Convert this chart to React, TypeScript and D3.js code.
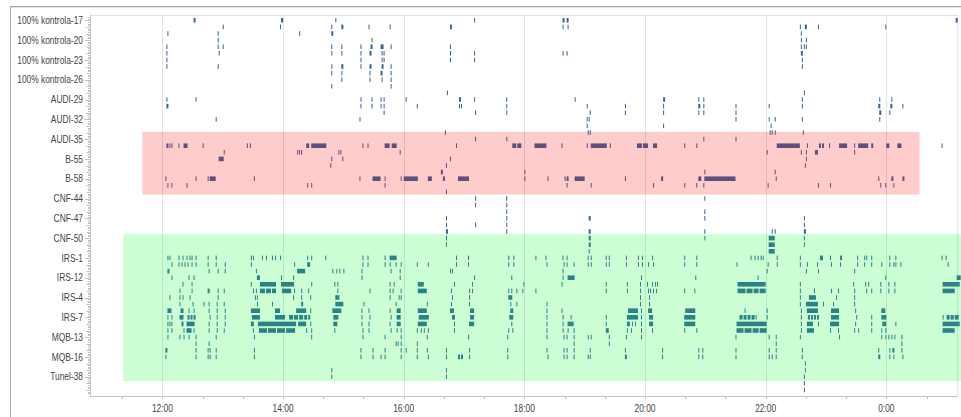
import * as d3 from "d3";

// each row: [name, [[start minutes after 12:00, length in minutes], ...]]
type Ev = [number, number];
type Row = [string, Ev[]];

const kontrolaEvents: Row[] = [
  ["100% kontrola-17", [[31, 2], [118, 2], [172, 1], [310, 1], [398, 2], [402, 2], [789, 2]]],
  ["100% kontrola-18", [[60, 1], [117, 1], [168, 1], [178, 2], [205, 1], [226, 1], [286, 2], [398, 1], [403, 1], [634, 1], [639, 2], [652, 1], [719, 1]]],
  ["100% kontrola-19", [[5, 1], [55, 1], [136, 1], [168, 2], [635, 1]]],
  ["100% kontrola-20", [[55, 1], [208, 1], [635, 1], [640, 1]]],
  ["100% kontrola-21", [[4, 1], [55, 1], [60, 1], [168, 1], [178, 1], [197, 1], [207, 2], [217, 3], [227, 1], [286, 1], [635, 1], [638, 1], [640, 1]]],
  ["100% kontrola-22", [[4, 1], [56, 1], [168, 1], [178, 1], [197, 1], [206, 2], [218, 1], [220, 1], [286, 1], [310, 1], [398, 1], [402, 1], [635, 2]]],
  ["100% kontrola-23", [[4, 1], [197, 1], [218, 1], [220, 1], [286, 1], [310, 1], [636, 1]]],
  ["100% kontrola-24", [[4, 1], [55, 1], [168, 1], [178, 2], [197, 1], [206, 2], [218, 2], [227, 1], [636, 1]]],
  ["100% kontrola-25", [[168, 1], [178, 1], [206, 1], [217, 2], [227, 1]]],
  ["100% kontrola-26", [[178, 1], [206, 1], [218, 1], [227, 1]]],
  ["100% kontrola-27", [[168, 1], [227, 1]]],
  ["100% kontrola-28", [[283, 1], [638, 1]]],
];

const audiEvents: Row[] = [
  ["AUDI-29", [[4, 1], [33, 1], [197, 1], [208, 1], [217, 1], [220, 1], [242, 1], [295, 2], [310, 1], [342, 1], [410, 1], [498, 2], [533, 1], [538, 1], [636, 1], [713, 1], [725, 1]]],
  ["AUDI-30", [[4, 2], [197, 1], [208, 1], [217, 1], [220, 1], [253, 1], [295, 1], [297, 1], [342, 1], [422, 1], [460, 1], [498, 1], [533, 2], [538, 1], [570, 1], [603, 1], [636, 1], [712, 2], [724, 2], [736, 1]]],
  ["AUDI-31", [[220, 1], [311, 1], [342, 1], [425, 1], [460, 1], [498, 1], [533, 1], [538, 1], [570, 1], [713, 2], [723, 1]]],
  ["AUDI-32", [[53, 1], [196, 1], [422, 1], [424, 1], [570, 1], [603, 1], [609, 1], [636, 1], [713, 1]]],
  ["AUDI-33", [[422, 1], [498, 1], [605, 1]]],
  ["AUDI-34", [[281, 1], [423, 1], [425, 1], [604, 1], [606, 1], [609, 1], [637, 1]]],
  ["AUDI-35", [[311, 1], [342, 1], [538, 1], [570, 1]]],
  ["AUDI-36", [[4, 2], [7, 1], [9, 1], [16, 1], [21, 4], [40, 1], [84, 1], [87, 1], [143, 3], [148, 15], [199, 1], [204, 1], [221, 5], [228, 5], [292, 1], [348, 4], [353, 4], [370, 12], [397, 1], [422, 1], [426, 16], [445, 1], [472, 5], [478, 5], [488, 4], [519, 1], [531, 1], [611, 23], [641, 1], [653, 2], [656, 2], [663, 1], [673, 8], [688, 1], [692, 10], [705, 2], [720, 3], [731, 4], [775, 1]]],
  ["AUDI-37", [[61, 1], [134, 1], [136, 1], [138, 1], [175, 1], [177, 1], [236, 1], [601, 1], [635, 1], [640, 1], [649, 3], [688, 1]]],
];

const bEvents: Row[] = [
  ["B-55", [[56, 5], [168, 1], [179, 1], [286, 1], [640, 1]]],
  ["B-56", [[167, 1], [282, 1], [639, 1]]],
  ["B-57", [[277, 2], [360, 1], [539, 1], [609, 1]]],
  ["B-58", [[3, 1], [33, 1], [45, 1], [47, 6], [91, 1], [196, 1], [209, 8], [221, 1], [237, 1], [240, 14], [264, 4], [279, 2], [294, 11], [360, 1], [383, 1], [400, 1], [402, 2], [410, 10], [460, 1], [496, 2], [533, 3], [539, 31], [610, 1], [712, 1], [725, 2], [736, 2]]],
  ["B-59", [[5, 1], [9, 1], [24, 1], [144, 1], [148, 1], [221, 1], [402, 1], [426, 1], [488, 1], [519, 1], [531, 1], [538, 1], [602, 1], [652, 1], [664, 1], [714, 1], [719, 1], [727, 1]]],
  ["B-60", [[282, 1]]],
];

const cnfEvents: Row[] = [
  ["CNF-44", [[311, 1], [342, 1], [539, 1]]],
  ["CNF-45", [[311, 1], [342, 1]]],
  ["CNF-46", [[342, 1], [539, 1]]],
  ["CNF-47", [[282, 1], [342, 1], [424, 2], [539, 1], [638, 1]]],
  ["CNF-48", [[282, 1], [311, 1], [342, 1], [638, 1]]],
  ["CNF-49", [[282, 2], [342, 1], [424, 2], [539, 1], [606, 1], [609, 1], [638, 2]]],
  ["CNF-50", [[282, 1], [424, 2], [539, 1], [603, 6], [638, 1]]],
  ["CNF-51", [[282, 1], [424, 2], [603, 6], [638, 1]]],
  ["CNF-52", [[424, 1], [603, 6]]],
];

const irsEvents: Row[] = [
  ["IRS-1", [[5, 1], [7, 1], [16, 1], [20, 1], [24, 1], [27, 1], [29, 1], [33, 1], [45, 1], [53, 1], [88, 1], [90, 1], [99, 1], [103, 1], [109, 1], [112, 1], [117, 1], [144, 1], [148, 1], [162, 1], [199, 1], [204, 1], [221, 1], [226, 7], [292, 1], [304, 1], [344, 1], [349, 1], [371, 1], [381, 1], [398, 1], [402, 1], [423, 1], [426, 1], [441, 1], [444, 1], [461, 1], [473, 1], [477, 1], [487, 1], [519, 1], [531, 1], [585, 1], [589, 1], [592, 1], [595, 1], [597, 1], [611, 1], [634, 1], [654, 3], [664, 1], [674, 2], [691, 1], [698, 1], [700, 1], [705, 1], [723, 1], [729, 1], [775, 1], [779, 1]]],
  ["IRS-10", [[9, 1], [16, 1], [19, 1], [22, 1], [25, 1], [29, 1], [33, 1], [45, 1], [53, 1], [62, 1], [88, 1], [131, 1], [144, 3], [199, 1], [204, 1], [221, 1], [226, 1], [232, 1], [237, 1], [253, 1], [264, 1], [292, 1], [304, 1], [344, 1], [349, 1], [382, 1], [399, 1], [402, 1], [409, 1], [423, 1], [426, 1], [441, 1], [444, 1], [461, 1], [473, 1], [477, 1], [483, 1], [488, 1], [519, 1], [531, 1], [571, 1], [602, 1], [611, 1], [634, 1], [641, 1], [651, 1], [665, 1], [674, 1], [691, 1], [698, 1], [705, 1], [715, 1], [723, 1], [727, 1], [729, 1], [734, 1], [781, 1]]],
  ["IRS-11", [[5, 2], [46, 1], [55, 1], [62, 1], [93, 1], [134, 8], [169, 1], [173, 1], [176, 1], [180, 1], [198, 1], [227, 1], [236, 1], [286, 1], [288, 1], [398, 1], [601, 1], [640, 1], [652, 1], [688, 1]]],
  ["IRS-12", [[9, 1], [26, 1], [31, 1], [94, 3], [118, 1], [130, 1], [198, 1], [236, 1], [310, 1], [347, 1], [398, 1], [403, 7], [476, 1], [530, 1], [592, 1], [719, 1], [790, 4]]],
  ["IRS-2", [[20, 1], [29, 1], [88, 1], [97, 16], [118, 13], [148, 1], [171, 1], [174, 1], [226, 1], [230, 1], [254, 6], [290, 1], [308, 1], [359, 1], [397, 1], [441, 1], [462, 1], [475, 1], [482, 1], [487, 1], [490, 1], [492, 1], [572, 28], [634, 1], [687, 1], [699, 1], [702, 1], [714, 1], [722, 1], [728, 1], [776, 17]]],
  ["IRS-3", [[17, 1], [29, 1], [45, 2], [55, 1], [61, 1], [90, 1], [93, 1], [97, 5], [103, 5], [109, 4], [119, 9], [131, 1], [138, 1], [145, 1], [174, 1], [206, 1], [226, 1], [229, 1], [237, 1], [254, 9], [287, 1], [305, 1], [308, 1], [344, 1], [347, 1], [352, 1], [358, 1], [371, 1], [441, 1], [462, 1], [475, 1], [483, 1], [485, 1], [488, 1], [491, 1], [519, 1], [529, 1], [572, 8], [581, 6], [588, 5], [594, 6], [634, 1], [648, 1], [665, 1], [672, 1], [688, 1], [700, 1], [705, 1], [714, 1], [722, 1], [728, 1], [776, 12]]],
  ["IRS-4", [[7, 1], [17, 1], [20, 1], [27, 1], [55, 1], [92, 1], [94, 1], [130, 1], [138, 1], [147, 1], [172, 4], [226, 1], [235, 1], [237, 1], [288, 1], [305, 1], [344, 4], [475, 1], [484, 1], [634, 1], [643, 7], [670, 1], [688, 1]]],
  ["IRS-5", [[17, 1], [30, 1], [41, 1], [46, 1], [54, 1], [61, 1], [94, 1], [109, 1], [138, 2], [172, 8], [200, 1], [232, 1], [263, 1], [287, 1], [305, 1], [346, 1], [352, 1], [382, 1], [475, 1], [484, 1], [634, 1], [640, 12], [657, 1], [667, 1], [688, 1]]],
  ["IRS-6", [[5, 4], [18, 3], [26, 1], [31, 1], [46, 1], [54, 1], [62, 1], [88, 9], [112, 5], [133, 10], [147, 1], [169, 9], [198, 1], [205, 1], [226, 1], [233, 4], [254, 9], [286, 4], [306, 4], [346, 3], [382, 1], [397, 1], [463, 10], [476, 1], [483, 4], [520, 10], [579, 1], [601, 1], [635, 1], [641, 11], [665, 8], [689, 1], [715, 4]]],
  ["IRS-7", [[5, 1], [9, 1], [17, 4], [25, 2], [28, 2], [31, 2], [47, 1], [54, 1], [62, 1], [89, 8], [112, 10], [126, 4], [131, 4], [136, 4], [141, 3], [145, 2], [170, 5], [198, 1], [206, 1], [227, 1], [233, 4], [255, 10], [288, 3], [306, 4], [345, 4], [382, 1], [398, 1], [406, 1], [441, 1], [462, 11], [476, 1], [484, 4], [519, 11], [574, 3], [578, 3], [582, 3], [586, 3], [590, 1], [601, 1], [635, 1], [642, 2], [645, 2], [648, 2], [651, 2], [665, 8], [690, 1], [705, 1], [715, 5], [776, 1], [780, 3], [784, 3], [788, 4]]],
  ["IRS-8", [[5, 1], [7, 1], [9, 1], [19, 2], [24, 8], [46, 1], [54, 1], [62, 1], [88, 3], [95, 38], [135, 8], [147, 1], [170, 4], [198, 1], [205, 1], [226, 1], [233, 4], [254, 9], [290, 1], [305, 5], [347, 1], [382, 1], [398, 1], [403, 6], [441, 1], [462, 3], [467, 1], [470, 1], [476, 1], [484, 4], [519, 11], [571, 30], [635, 1], [641, 6], [652, 1], [664, 9], [689, 1], [705, 1], [716, 4], [729, 1], [776, 17]]],
  ["IRS-9", [[5, 1], [9, 1], [21, 1], [24, 5], [31, 1], [46, 1], [54, 1], [61, 1], [90, 1], [96, 8], [105, 8], [114, 8], [123, 9], [143, 1], [148, 1], [171, 1], [199, 1], [205, 1], [227, 1], [233, 1], [237, 1], [253, 1], [257, 1], [260, 1], [264, 1], [290, 1], [344, 1], [348, 1], [382, 1], [398, 1], [403, 1], [409, 1], [441, 3], [462, 1], [466, 1], [476, 1], [487, 1], [519, 1], [531, 1], [571, 7], [579, 7], [587, 6], [594, 7], [635, 1], [641, 7], [664, 1], [672, 1], [688, 1], [692, 1], [705, 1], [715, 1], [719, 1], [776, 12]]],
];

const mqbEvents: Row[] = [
  ["MQB-13", [[5, 1], [17, 1], [21, 1], [26, 1], [33, 1], [53, 1], [91, 1], [148, 1], [199, 1], [221, 1], [237, 1], [263, 1], [304, 1], [343, 1], [382, 1], [399, 1], [402, 1], [409, 1], [423, 1], [426, 1], [444, 1], [461, 1], [476, 1], [570, 1], [603, 1], [610, 1], [634, 1], [673, 1], [715, 1], [719, 1], [722, 1], [725, 1], [728, 1], [735, 1]]],
  ["MQB-14", [[33, 1], [46, 1], [232, 1], [234, 1], [237, 1], [253, 1], [409, 1], [444, 1], [610, 1], [735, 1]]],
  ["MQB-15", [[3, 2], [33, 1], [45, 1], [47, 1], [53, 1], [91, 1], [197, 1], [209, 1], [221, 1], [237, 1], [242, 1], [253, 1], [263, 1], [282, 1], [305, 1], [343, 1], [382, 1], [399, 1], [402, 1], [409, 1], [425, 1], [460, 1], [497, 1], [533, 1], [537, 1], [570, 1], [603, 1], [610, 1], [636, 1], [712, 1], [723, 1], [726, 2], [735, 1]]],
  ["MQB-16", [[3, 1], [33, 1], [45, 1], [47, 1], [53, 1], [91, 1], [197, 1], [209, 1], [217, 1], [221, 1], [237, 1], [253, 1], [264, 1], [282, 1], [294, 2], [297, 2], [305, 1], [343, 1], [383, 1], [399, 1], [402, 1], [409, 1], [423, 1], [425, 1], [460, 2], [497, 1], [533, 1], [537, 1], [570, 1], [603, 1], [606, 1], [610, 1], [636, 1], [712, 2], [723, 1], [727, 1], [736, 1]]],
  ["MQB-17", [[639, 1]]],
  ["MQB-18", [[168, 1], [282, 1], [639, 1]]],
];

const tunelEvents: Row[] = [
  ["Tunel-38", [[168, 1], [282, 1], [638, 1]]],
  ["Tunel-39", [[638, 1]]],
  ["Tunel-40", [[638, 1]]],
];

const allRows: Row[] = [...kontrolaEvents, ...audiEvents, ...bEvents, ...cnfEvents, ...irsEvents, ...mqbEvents, ...tunelEvents];
const rowNames = allRows.map((r) => r[0]);

const xDomain = ["10:48", "1:11"];
const majorTicks = ["12:00", "14:00", "16:00", "18:00", "20:00", "22:00", "0:00"];
const minorTickFrom = "11:20"; // small ticks every 40 minutes

// shaded bands: time span and row span (row index, fractional)
const bands = [
  { from: "11:40", to: "0:33", rows: [16.9, 26.4], fill: "rgba(255,0,0,0.2)" },
  { from: "11:21", to: "1:40", rows: [32.4, 54.65], fill: "rgba(0,255,40,0.2)" },
];

const noon = new Date(2024, 4, 6, 12, 0);
const toDate = (min: number) => new Date(noon.getTime() + min * 60000);
const clock = (s: string) => {
  const [h, m] = s.split(":").map(Number);
  let v = h * 60 + m - 720;
  if (v < -180) v += 1440;
  return v;
};

const W = 961;
const H = 417;
const left = 90;
const right = 957.7;
const top = 15;
const bottom = 396;

// the original labels use a narrow UI font; squeeze Liberation Sans to match
const font = "'Liberation Sans', Arial, sans-serif";
const squeeze = 0.8;

export default function App() {
  const x = d3.scaleTime().domain(xDomain.map((s) => toDate(clock(s)))).range([left, right]);
  const y = d3.scaleBand().domain(rowNames).range([17, 393.2]);
  const step = y.step();
  const rowY = (i: number) => (y(rowNames[0]) as number) + step * (i + 0.5);

  const minor = d3.timeMinute.range(toDate(clock(minorTickFrom)), x.domain()[1], 40);
  const ruler = d3.range(0, rowNames.length * 4 + 1);

  return (
    <svg width={W} height={H} style={{ position: "absolute", left: 0, top: 0, background: "#fff" }} fontFamily={font}>
      {/* outer frame */}
      <line x1={10} x2={W} y1={6.5} y2={6.5} stroke="#a9a9a9" />
      <line x1={10} x2={W} y1={7.5} y2={7.5} stroke="#e4e4e4" />
      <line x1={10.5} x2={10.5} y1={6} y2={H} stroke="#a9a9a9" />

      {/* plot frame + grid */}
      <line x1={left} x2={right} y1={top + 0.5} y2={top + 0.5} stroke="#e2e2e2" />
      <line x1={right} x2={right} y1={top} y2={bottom} stroke="#e2e2e2" />
      {majorTicks.map((t) => {
        const xx = Math.round(x(toDate(clock(t)))) + 0.5;
        return <line key={t} x1={xx} x2={xx} y1={top} y2={bottom} stroke="#e3e3e3" />;
      })}

      {/* events */}
      <g fill="#35659f">
        {allRows.map(([name, evs]) =>
          evs.map(([s, d], i) => {
            const x0 = x(toDate(s));
            const x1 = x(toDate(s + d));
            return (
              <rect
                key={name + i}
                x={x0}
                y={(y(name) as number) + step / 2 - 2.3}
                width={Math.max(1, x1 - x0)}
                height={4.6}
              />
            );
          })
        )}
      </g>

      {/* highlight bands */}
      {bands.map((b, i) => (
        <rect
          key={i}
          x={x(toDate(clock(b.from)))}
          width={x(toDate(clock(b.to))) - x(toDate(clock(b.from)))}
          y={rowY(b.rows[0])}
          height={rowY(b.rows[1]) - rowY(b.rows[0])}
          fill={b.fill}
        />
      ))}

      {/* y axis */}
      <line x1={left + 0.5} x2={left + 0.5} y1={top} y2={bottom} stroke="#c4c4c4" />
      {ruler.map((k) => {
        const yy = Math.round(17 + (k * step) / 4) + 0.5;
        const len = k % 4 === 2 ? (((k - 2) / 4) % 3 === 0 ? 5 : 3.5) : 2;
        return <line key={k} x1={left - len} x2={left} y1={yy} y2={yy} stroke="#c4c4c4" />;
      })}
      {rowNames.map((n, i) =>
        i % 3 === 0 ? (
          <text
            key={n}
            transform={`translate(83,${(y(n) as number) + step / 2}) scale(${squeeze},1)`}
            dy="0.35em"
            textAnchor="end"
            fontSize={10.5}
            fill="#444"
          >
            {n}
          </text>
        ) : null
      )}

      {/* x axis */}
      <line x1={left} x2={right} y1={bottom + 0.5} y2={bottom + 0.5} stroke="#c4c4c4" />
      {minor.map((t, i) => {
        const xx = Math.round(x(t)) + 0.5;
        return <line key={i} x1={xx} x2={xx} y1={bottom} y2={bottom + 3} stroke="#c4c4c4" />;
      })}
      {majorTicks.map((t) => (
        <text
          key={t}
          transform={`translate(${x(toDate(clock(t)))},408) scale(${squeeze},1)`}
          dy="0.35em"
          textAnchor="middle"
          fontSize={10.5}
          fill="#444"
        >
          {t}
        </text>
      ))}
    </svg>
  );
}
